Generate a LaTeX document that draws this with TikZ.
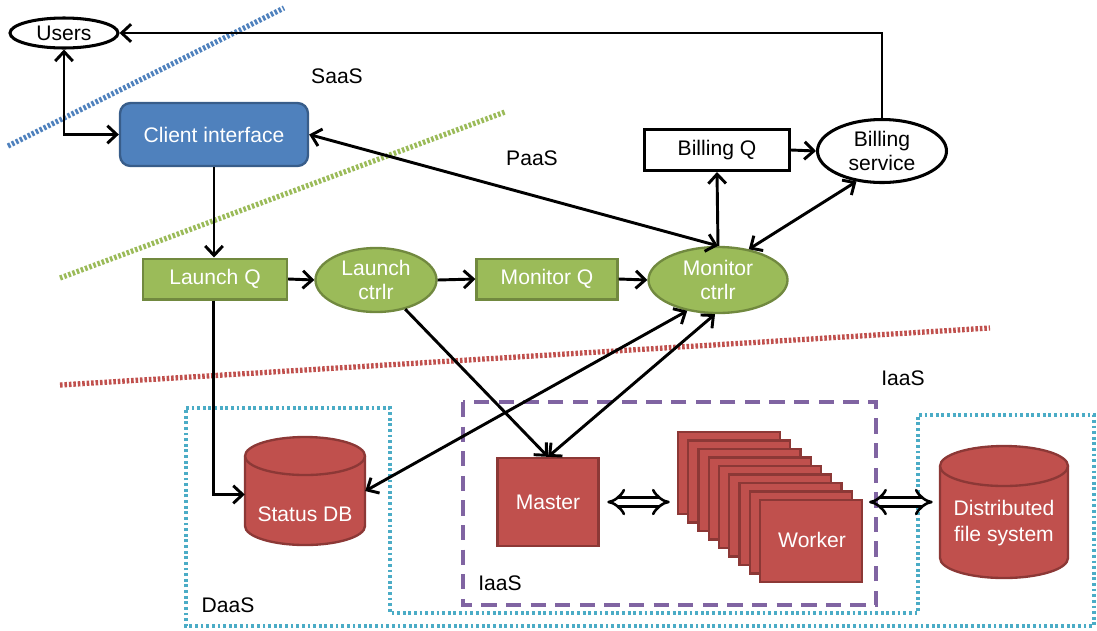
\documentclass[tikz,border=0pt]{standalone}
\usepackage{fontspec}
\setmainfont{Liberation Sans}
\usepackage{xcolor}
\usepackage{tikz}
\usetikzlibrary{arrows.meta, positioning, calc, shapes.geometric}
\definecolor{cblue}{HTML}{4F81BD}
\definecolor{cbluedark}{HTML}{385D8A}
\definecolor{cgreen}{HTML}{9BBB59}
\definecolor{cgreendark}{HTML}{71893F}
\definecolor{cred}{HTML}{C0504D}
\definecolor{creddark}{HTML}{8C3836}
\definecolor{ccyan}{HTML}{4BACC6}
\definecolor{cpurple}{HTML}{8064A2}
\tikzset{
  bluebox/.style={draw=cbluedark, fill=cblue, rounded corners=9pt, line width=2pt,
                  text=white, minimum width=5.64cm, minimum height=1.89cm},
  greenbox/.style={draw=cgreendark, fill=cgreen, line width=2pt, text=white,
                   minimum height=1.22cm, inner sep=0},
  greenell/.style={ellipse, draw=cgreendark, fill=cgreen, line width=2pt, text=white,
                   align=center, inner sep=0},
  whitebox/.style={draw=black, fill=white, line width=2.6pt, minimum height=1.23cm, inner sep=0},
  whiteell/.style={ellipse, draw=black, fill=white, line width=2.6pt, align=center, inner sep=0},
  redbox/.style={draw=creddark, fill=cred, line width=2pt, text=white, inner sep=0},
  dbnode/.style={rectangle, inner sep=0},
  dbfill/.style={draw=creddark, fill=cred, line width=2pt},
  dbtext/.style={text=white, align=center, inner sep=0},
  farrow/.style={line width=2.5pt, -{Straight Barb[length=8pt, width=15pt]}},
  fdarrow/.style={line width=2.5pt, {Straight Barb[length=8pt, width=15pt]}-{Straight Barb[length=8pt, width=15pt]}},
  hollowarrow/.style={line width=2.2pt, double distance=5.5pt,
                      {Implies[length=9pt, width=19pt]}-{Implies[length=9pt, width=19pt]}},
  layerline/.style={line width=4.5pt, dash pattern=on 2.2pt off 1.6pt},
  areabox/.style={line width=3pt, dash pattern=on 2.4pt off 2.4pt, draw=ccyan},
}
% cylinder: centre x, centre y, half width, half height, cap radius
\newcommand{\dbcylinder}[5]{%
  \filldraw[dbfill] (#1-#3,#2-#4+#5) -- (#1-#3,#2+#4-#5)
    arc[start angle=180, end angle=0, x radius=#3, y radius=#5]
    -- (#1+#3,#2-#4+#5)
    arc[start angle=0, end angle=-180, x radius=#3, y radius=#5] -- cycle;
  \draw[dbfill] (#1-#3,#2-#4+#5) arc[start angle=180, end angle=0, x radius=#3, y radius=#5];}

\begin{document}
\begin{tikzpicture}[x=0.03cm, y=-0.03cm, font=\fontsize{18}{22}\selectfont]
  \useasboundingbox (0,0) rectangle (1097,630);

  %% layer separators
  \draw[layerline, cblue] (8,146) -- (284,8);
  \draw[layerline, cgreen] (60,278) -- (505,112);
  \draw[layerline, cred] (60,385) -- (990,328);
  \node (saas) at (337,76) {SaaS};
  \node (paas) at (532,158) {PaaS};
  \node (iaasout) at (903,378) {IaaS};

  %% DaaS and IaaS areas
  \draw[areabox] (186,408) -- (390,408) -- (390,613) -- (918,613) -- (918,415)
    -- (1094,415) -- (1094,626) -- (186,626) -- cycle;
  \draw[cpurple, line width=3pt, dash pattern=on 13pt off 8pt] (463,402) rectangle (876,605);
  \node (daas) at (228,605) {DaaS};
  \node (iaasin) at (500,583) {IaaS};

  %% top: users and client
  \node[whiteell, minimum width=3.24cm, minimum height=0.9cm] (users) at (64,33) {Users};
  \node[bluebox] (ci) at (214,134.5) {Client interface};

  %% queues and controllers
  \node[greenbox, minimum width=4.32cm] (lq) at (215,279) {Launch Q};
  \node[greenell, minimum width=3.63cm, minimum height=1.92cm] (lc) at (376,280) {Launch\\[-1pt]ctrlr};
  \node[greenbox, minimum width=4.23cm] (mq) at (547,279) {Monitor Q};
  \node[greenell, minimum width=4.17cm, minimum height=1.98cm] (mc) at (718,280) {Monitor\\[-1pt]ctrlr};

  %% billing
  \node[whitebox, minimum width=4.35cm] (bq) at (717,150) {Billing Q};
  \node[whiteell, minimum width=3.87cm, minimum height=1.89cm] (bs) at (882,151) {Billing\\[-1pt]service};

  %% storage and cluster
  \node[dbnode, minimum width=3.6cm, minimum height=3.24cm] (sdb) at (305,491) {};
  \dbcylinder{305}{491}{60}{54}{19}
  \node[dbtext] (sdbtext) at (305,514) {Status DB};
  \node[redbox, minimum width=3.03cm, minimum height=2.64cm] (master) at (548,502) {Master};
  \foreach \i in {0,...,8}
    \node[redbox, minimum width=3.06cm, minimum height=2.46cm] (w\i) at ({729+10.25*\i},{473+8.5*\i}) {};
  \node[text=white] (worker) at (812,540) {Worker};
  \node[dbnode, minimum width=3.84cm, minimum height=3.96cm] (dfs) at (1004,512) {};
  \dbcylinder{1004}{512}{64}{66}{20}
  \node[dbtext] (dfstext) at (1004,523) {Distributed\\file system};

  %% connectors
  \draw[fdarrow] (users.south) |- (ci.west);
  \draw[farrow] (bs.north) |- (users.east);
  \draw[farrow] (ci.south) -- (ci.south |- lq.north);
  \draw[farrow] (lq.east) -- (lc.west);
  \draw[farrow] (lc.east) -- (mq.west);
  \draw[farrow] (mq.east) -- (mc.west);
  \draw[farrow] (mc.north) -- (bq.south);
  \draw[farrow] (bq.east) -- (bs.west);
  \draw[fdarrow] (bs.-130) -- (mc.45);
  \draw[fdarrow] (ci.east) -- (mc.north);
  \draw[farrow] ([xshift=-1pt]lq.south) |- ([yshift=-3pt]sdb.west);
  \draw[farrow] (lc.-45) -- (master.north);
  \draw[fdarrow] (mc.-95) -- (master.north);
  \draw[fdarrow] (mc.-135) -- (sdb.east);
  \draw[hollowarrow, shorten <=6.5pt, shorten >=6pt] (master.east) -- (master.east -| w0.west);
  \draw[hollowarrow, shorten <=5pt, shorten >=6pt] ([yshift=8.5pt]dfs.west -| w8.east) -- ([yshift=8.5pt]dfs.west);

\end{tikzpicture}
\end{document}
